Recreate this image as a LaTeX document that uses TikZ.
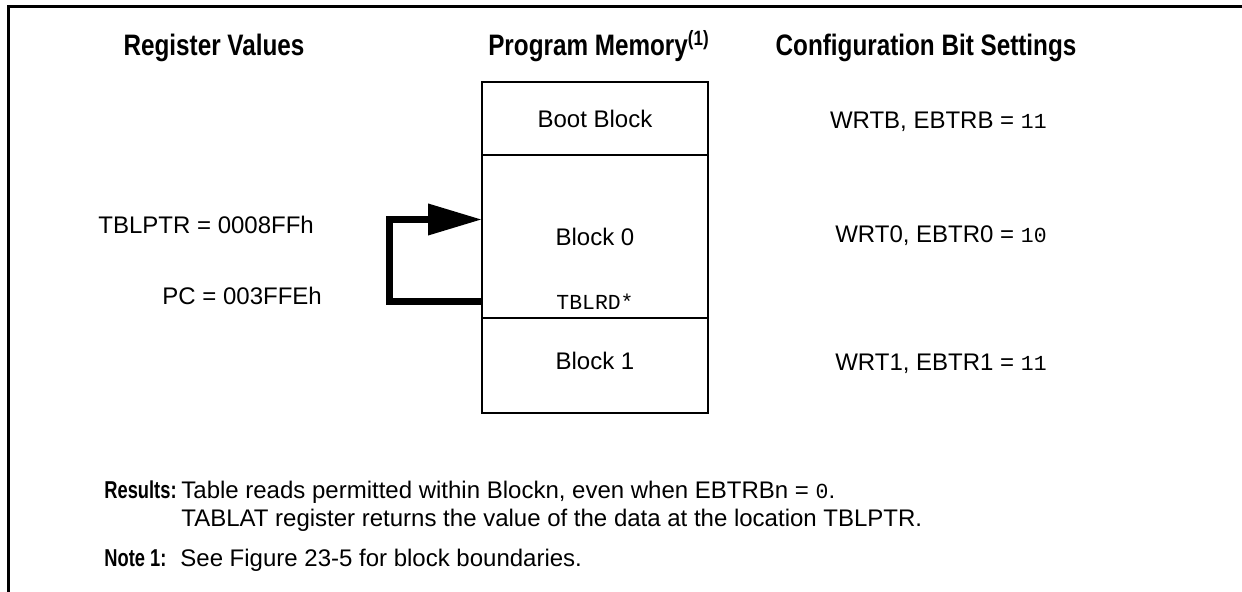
\documentclass[tikz,border=0pt]{standalone}
\usepackage{fontspec}
\setmainfont{Liberation Sans}
\setmonofont{Liberation Mono}
\newfontfamily\narrowbf[FakeStretch=0.82]{Liberation Sans Bold}
\newfontfamily\notebf[FakeStretch=0.75]{Liberation Sans Bold}
\usetikzlibrary{arrows.meta, positioning}
\newcommand{\bits}[1]{{\fontsize{10.7}{12}\selectfont\ttfamily #1}}

\begin{document}
\begin{tikzpicture}[x=0.5pt, y=-0.5pt,
            mem/.style={draw, line width=0.8pt, minimum width=113pt,
                inner sep=0pt, outer sep=0pt, font=\fontsize{12}{14}\selectfont},
            head/.style={inner sep=0pt, font=\fontsize{14.8}{17}\narrowbf},
            txt/.style={inner sep=0pt, font=\fontsize{12}{14}\selectfont},
            lbl/.style={inner sep=0pt, font=\fontsize{12.2}{14}\notebf},
            arr/.style={-{Triangle[length=27pt, width=15pt]}, line width=3.5pt}
          ]
          \useasboundingbox (0,0) rectangle (1242,592);
          \draw[line width=1.2pt] (8.5,592) -- (8.5,6.5) -- (1242,6.5);
          % column heads
          \node[head, anchor=base] (hreg) at (214,56) {Register Values};
          \node[head, anchor=base] (hmem) at (599,56) {Program Memory\textsuperscript{(1)}};
          \node[head, anchor=base] (hcfg) at (926,56) {Configuration Bit Settings};
          % memory map
          \node[mem, minimum height=36.5pt] (boot) at (595,118.5) {Boot Block};
          \node[mem, minimum height=81.5pt, below=0pt of boot] (blk0) {Block 0};
          \node[mem, minimum height=47.5pt, text depth=4.5pt, below=0pt of blk0] (blk1) {Block 1};
          \node[inner sep=0pt, font=\fontsize{10.7}{12}\selectfont\ttfamily]
          (tbl) at (595,302) {TBLRD*};
          \draw[arr] (tbl.west -| blk0.west) -- ++(-92.5,0) |- ([yshift=8.5pt]blk0.west);
          % register values
          \node[txt, anchor=base west] (tblptr) at (98,234) {TBLPTR = 0008FFh};
          \node[txt, anchor=base west] (pc) at (162,305) {PC = 003FFEh};
          % configuration bits
          \node[txt, anchor=base east] (cfgb) at (1047,128.5) {WRTB, EBTRB = \bits{11}};
          \node[txt, anchor=base east] (cfg0) at (1047,243) {WRT0, EBTR0 = \bits{10}};
          \node[txt, anchor=base east] (cfg1) at (1047,370.5) {WRT1, EBTR1 = \bits{11}};
          % results and note
          \node[lbl, anchor=base west] (reslbl) at (104,499) {Results:};
          \node[txt, anchor=base west] (res1) at (181,499)
          {Table reads permitted within Blockn, even when EBTRBn = \bits{0}.};
          \node[txt, anchor=base west] (res2) at (181,527)
          {TABLAT register returns the value of the data at the location TBLPTR.};
          \node[lbl, anchor=base west] (notelbl) at (104,566.5) {Note 1:};
          \node[txt, anchor=base west] (note1) at (180,566.5) {See Figure 23-5 for block boundaries.};
        \end{tikzpicture}
\end{document}
